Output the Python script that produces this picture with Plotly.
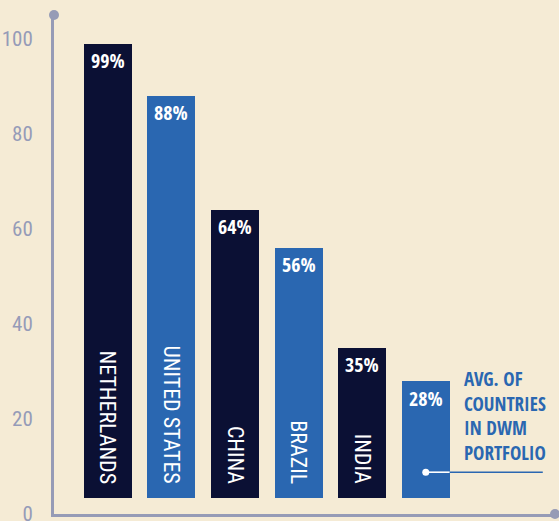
import plotly.graph_objects as go

countries = ["NETHERLANDS", "UNITED STATES", "CHINA", "BRAZIL", "INDIA", ""]
values = [99, 88, 64, 56, 35, 28]
pct_labels = ["99%", "88%", "64%", "56%", "35%", "28%"]
bar_colors = ["#0b1034", "#2a67b1", "#0b1034", "#2a67b1", "#0b1034", "#2a67b1"]
tick_vals = [0, 20, 40, 60, 80, 100]
avg_note = "AVG. OF<br>COUNTRIES<br>IN DWM<br>PORTFOLIO"

BG = "#f5ebd5"
AXIS = "#969bb6"
TICK = "#959bb8"
BLUE = "#2a67b1"
COND = "Open Sans Condensed, Roboto Condensed, DejaVu Sans Condensed, sans-serif"
RCOND = "Roboto Condensed, Open Sans Condensed, DejaVu Sans Condensed, sans-serif"
BAR_BASE = 3.4
BAR_W = 0.755

xs = list(range(len(values)))

fig = go.Figure()
fig.add_trace(go.Bar(
    x=xs, y=[v - BAR_BASE for v in values], base=BAR_BASE,
    width=BAR_W, marker=dict(color=bar_colors, line=dict(width=0)),
    hoverinfo="skip", showlegend=False,
))

annotations = []
for i, (c, p, v) in enumerate(zip(countries, pct_labels, values)):
    annotations.append(dict(
        x=i, y=v, xref="x", yref="y", text=p, showarrow=False,
        yanchor="middle", yshift=-17,
        font=dict(family=COND, size=20, color="white", weight="bold"),
    ))
    if c:
        annotations.append(dict(
            x=i, y=BAR_BASE, xref="x", yref="y", text=c, showarrow=False,
            textangle=90, yanchor="bottom", xanchor="center", yshift=12,
            font=dict(family=RCOND, size=22, color="white", weight=400),
        ))

avg_i = len(values) - 1
annotations.append(dict(
    x=avg_i + 0.57, y=20.6, xref="x", yref="y", text=avg_note, showarrow=False,
    xanchor="left", yanchor="middle", align="left",
    font=dict(family=COND, size=19, color=BLUE, weight="bold"),
))

shapes = []
ptr_y = 8.8
shapes.append(dict(type="line", xref="x", yref="y",
                   x0=avg_i, x1=avg_i + BAR_W / 2, y0=ptr_y, y1=ptr_y,
                   line=dict(color="white", width=1.6)))
shapes.append(dict(type="line", xref="x", yref="y",
                   x0=avg_i + BAR_W / 2, x1=avg_i + 1.84, y0=ptr_y, y1=ptr_y,
                   line=dict(color=BLUE, width=1.6)))
shapes.append(dict(type="circle", xref="x", yref="y", xsizemode="pixel", ysizemode="pixel",
                   xanchor=avg_i, yanchor=ptr_y, x0=-3.5, x1=3.5, y0=-3.5, y1=3.5,
                   fillcolor="white", line=dict(width=0)))
shapes.append(dict(type="circle", xref="paper", yref="paper", xsizemode="pixel", ysizemode="pixel",
                   xanchor=0, yanchor=1, x0=-5, x1=5, y0=-5, y1=5,
                   fillcolor=AXIS, line=dict(width=0)))
shapes.append(dict(type="circle", xref="paper", yref="paper", xsizemode="pixel", ysizemode="pixel",
                   xanchor=1, yanchor=0, x0=-5, x1=5, y0=-5, y1=5,
                   fillcolor=AXIS, line=dict(width=0)))

fig.update_layout(
    width=559, height=521,
    margin=dict(l=54, r=4, t=15, b=7, autoexpand=False),
    paper_bgcolor=BG, plot_bgcolor=BG,
    xaxis=dict(range=[-0.845, 7.032], showgrid=False, zeroline=False,
               showticklabels=False, showline=True, linecolor=AXIS, linewidth=3,
               fixedrange=True, automargin=False),
    yaxis=dict(range=[0, 105.05], showgrid=False, zeroline=False,
               tickvals=tick_vals, ticks="", showline=True, linecolor=AXIS,
               linewidth=3, ticklabelstandoff=14, ticklabeloverflow="allow",
               automargin=False,
               tickfont=dict(family=RCOND, size=21, color=TICK), fixedrange=True),
    annotations=annotations, shapes=shapes,
    bargap=0,
)

fig.write_html("out.html", config={"displayModeBar": False})
